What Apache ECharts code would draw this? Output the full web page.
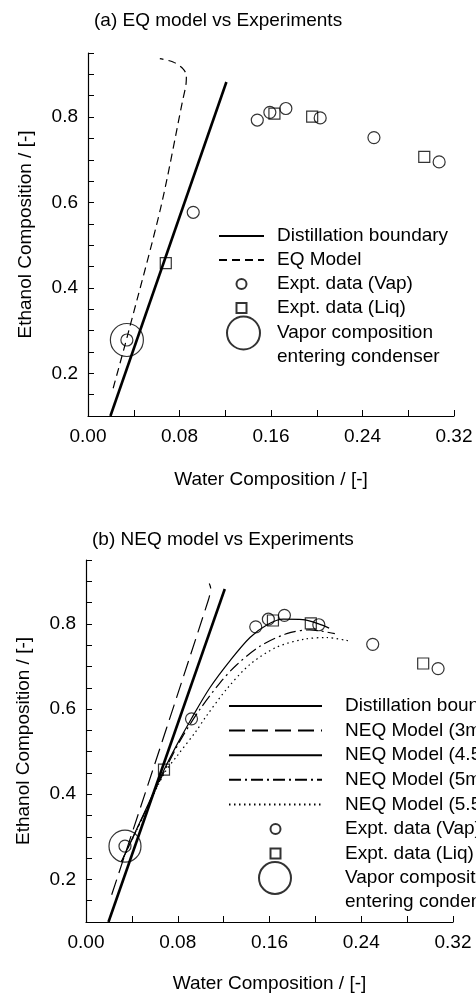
<!DOCTYPE html>
<html>
<head>
<meta charset="utf-8">
<script src="https://cdn.jsdelivr.net/npm/echarts@6/dist/echarts.min.js"></script>
<style>
html, body { margin: 0; padding: 0; background: #fff; }
#charts { width: 476px; height: 994px; }
</style>
</head>
<body>
<div id="charts"></div>
<script>
// values: x = water, y = ethanol composition
var vapX = [0.148, 0.159, 0.173, 0.203, 0.250, 0.307, 0.092, 0.034];
var vapY = [0.793, 0.811, 0.820, 0.798, 0.752, 0.695, 0.577, 0.278];
var liqX = [0.163, 0.196, 0.294, 0.068];
var liqY = [0.808, 0.801, 0.707, 0.458];
var condX = [0.034];
var condY = [0.278];

var boundaryX = [0.0196, 0.121];
var boundaryY = [0.100, 0.882];

// (a) EQ model
var eqX = [0.022, 0.035, 0.0636, 0.0826, 0.0858, 0.086, 0.0831, 0.0744, 0.0628];
var eqY = [0.165, 0.293, 0.588, 0.837, 0.880, 0.897, 0.913, 0.929, 0.937];

// (b) NEQ models
var neq3X = [0.0224, 0.1067, 0.1087, 0.1075];
var neq3Y = [0.164, 0.856, 0.884, 0.895];
var neq45X = [0.031, 0.050, 0.068, 0.080, 0.092, 0.108, 0.126, 0.143, 0.158, 0.172, 0.189, 0.203, 0.212];
var neq45Y = [0.242, 0.352, 0.457, 0.520, 0.578, 0.650, 0.715, 0.768, 0.798, 0.811, 0.810, 0.800, 0.790];
var neq5X = [0.031, 0.050, 0.068, 0.083, 0.099, 0.117, 0.131, 0.152, 0.175, 0.195, 0.217];
var neq5Y = [0.242, 0.350, 0.452, 0.530, 0.598, 0.662, 0.703, 0.748, 0.777, 0.786, 0.777];
var neq55X = [0.031, 0.050, 0.068, 0.080, 0.096, 0.104, 0.123, 0.143, 0.166, 0.190, 0.210, 0.229];
var neq55Y = [0.242, 0.348, 0.448, 0.492, 0.548, 0.580, 0.648, 0.705, 0.745, 0.764, 0.768, 0.760];

var xLabels = [0.00, 0.08, 0.16, 0.24, 0.32];
var yLabels = [0.2, 0.4, 0.6, 0.8];

var condName = 'Vapor composition\nentering condenser';
var font = 'Arial, "Liberation Sans", Helvetica, sans-serif';
var squareIcon = 'path://M0,0H10V10H0Z';

function pairs(xs, ys) {
	return xs.map(function (x, i) { return [x, ys[i]]; });
}
function hasLabel(list, v) {
	for (var i = 0; i < list.length; i++) {
		if (Math.abs(list[i] - v) < 1e-6) return true;
	}
	return false;
}

var chart = echarts.init(document.getElementById('charts'));

function xAxisFor(gi, gap) {
	return {
		type: 'value', gridIndex: gi, min: 0, max: 0.32, interval: 0.04,
		name: 'Water Composition / [-]', nameLocation: 'middle', nameGap: gap, nameMoveOverlap: false,
		nameTextStyle: { color: '#000', fontSize: 19, fontFamily: font },
		axisLine: { lineStyle: { color: '#000', width: 1.2 } },
		axisTick: { inside: true, length: 6, lineStyle: { color: '#000', width: 1 } },
		axisLabel: {
			margin: 11, color: '#000', fontSize: 19, fontFamily: font,
			formatter: function (v) { return hasLabel(xLabels, v) ? v.toFixed(2) : ''; }
		},
		splitLine: { show: false }
	};
}
function yAxisFor(gi) {
	return {
		type: 'value', gridIndex: gi, min: 0.1, max: 0.95, interval: 0.05,
		name: 'Ethanol Composition / [-]', nameLocation: 'middle', nameGap: 53, nameMoveOverlap: false,
		nameTextStyle: { color: '#000', fontSize: 19, fontFamily: font },
		axisLine: { show: true, lineStyle: { color: '#000', width: 1.2 } },
		axisTick: { show: true, inside: true, length: 6, lineStyle: { color: '#000', width: 1 } },
		axisLabel: {
			margin: 10, color: '#000', fontSize: 19, fontFamily: font,
			formatter: function (v) { return hasLabel(yLabels, v) ? v.toFixed(1) : ''; }
		},
		splitLine: { show: false }
	};
}
function lineSeries(name, gi, xs, ys, width, dash, smooth) {
	return {
		name: name, type: 'line', xAxisIndex: gi, yAxisIndex: gi,
		data: pairs(xs, ys), symbol: 'none', smooth: smooth || false, silent: true,
		lineStyle: { color: '#000', width: width, type: dash || 'solid' },
		itemStyle: { color: '#000' }
	};
}
function markerSeries(name, gi, xs, ys, symbol, size) {
	return {
		name: name, type: 'scatter', xAxisIndex: gi, yAxisIndex: gi,
		data: pairs(xs, ys), symbol: symbol, symbolSize: size, silent: true,
		itemStyle: { color: 'rgba(255,255,255,0)', borderColor: '#000', borderWidth: 1.2 }
	};
}
// the two-line label starts level with the big circle
function condLabel(name) {
	return ' \n' + name;
}
var txt = { color: '#000', fontSize: 19, fontFamily: font, lineHeight: 24 };

var option = {
	animation: false,
	backgroundColor: '#fff',
	title: [
		{ text: '(a) EQ model vs Experiments', left: 94, top: 11, padding: 0,
		  textStyle: { color: '#000', fontSize: 19, fontWeight: 'normal', fontFamily: font } },
		{ text: '(b) NEQ model vs Experiments', left: 92, top: 530, padding: 0,
		  textStyle: { color: '#000', fontSize: 19, fontWeight: 'normal', fontFamily: font } }
	],
	grid: [
		{ left: 88, top: 53, width: 366, height: 363, outerBoundsMode: 'none' },
		{ left: 86, top: 560, width: 367, height: 362, outerBoundsMode: 'none' }
	],
	xAxis: [xAxisFor(0, 54), xAxisFor(1, 52)],
	yAxis: [yAxisFor(0), yAxisFor(1)],
	legend: [
		{
			orient: 'vertical', left: 218, top: 224, padding: 0, itemGap: 0,
			itemWidth: 45, itemHeight: 10, selectedMode: false,
			textStyle: Object.assign({ padding: [0, 0, 0, 8] }, txt),
			data: [
				{ name: 'Distillation boundary', itemStyle: { opacity: 0 } },
				{ name: 'EQ Model', itemStyle: { opacity: 0 } },
				'Expt. data (Vap)',
				{ name: 'Expt. data (Liq)', icon: squareIcon }
			]
		},
		{
			orient: 'vertical', left: 226, top: 297, padding: 0,
			itemWidth: 33, itemHeight: 33, selectedMode: false,
			formatter: condLabel,
			textStyle: Object.assign({ padding: [0, 0, 0, 12] }, txt),
			data: [condName]
		},
		{
			orient: 'vertical', left: 228, top: 694, padding: 0, itemGap: 0.6,
			itemWidth: 93, itemHeight: 10, selectedMode: false,
			textStyle: Object.assign({ padding: [0, 0, 0, 18] }, txt),
			data: [
				{ name: 'Distillation boundary', itemStyle: { opacity: 0 } },
				{ name: 'NEQ Model (3mm)', itemStyle: { opacity: 0 } },
				{ name: 'NEQ Model (4.5mm)', itemStyle: { opacity: 0 } },
				{ name: 'NEQ Model (5mm)', itemStyle: { opacity: 0 } },
				{ name: 'NEQ Model (5.5mm)', itemStyle: { opacity: 0 } },
				'Expt. data (Vap)',
				{ name: 'Expt. data (Liq)', icon: squareIcon }
			]
		},
		{
			orient: 'vertical', left: 258, top: 842, padding: 0,
			itemWidth: 32, itemHeight: 32, selectedMode: false,
			formatter: condLabel,
			textStyle: Object.assign({ padding: [0, 0, 0, 49] }, txt),
			data: [condName]
		}
	],
	series: [
		lineSeries('Distillation boundary', 0, boundaryX, boundaryY, 2.6),
		lineSeries('EQ Model', 0, eqX, eqY, 1.2, [8, 5], 0.3),
		markerSeries('Expt. data (Vap)', 0, vapX, vapY, 'circle', 12),
		markerSeries('Expt. data (Liq)', 0, liqX, liqY, 'rect', 11),
		markerSeries(condName, 0, condX, condY, 'circle', 33),

		lineSeries('Distillation boundary', 1, boundaryX, boundaryY, 2.6),
		lineSeries('NEQ Model (3mm)', 1, neq3X, neq3Y, 1.2, [16, 7], 0.3),
		lineSeries('NEQ Model (4.5mm)', 1, neq45X, neq45Y, 1.2, 'solid', 0.3),
		lineSeries('NEQ Model (5mm)', 1, neq5X, neq5Y, 1.2, [12, 4, 2, 4], 0.3),
		lineSeries('NEQ Model (5.5mm)', 1, neq55X, neq55Y, 1.2, [1.5, 3.5], 0.3),
		markerSeries('Expt. data (Vap)', 1, vapX, vapY, 'circle', 12),
		markerSeries('Expt. data (Liq)', 1, liqX, liqY, 'rect', 11),
		markerSeries(condName, 1, condX, condY, 'circle', 32)
	]
};
chart.setOption(option);
</script>
</body>
</html>
